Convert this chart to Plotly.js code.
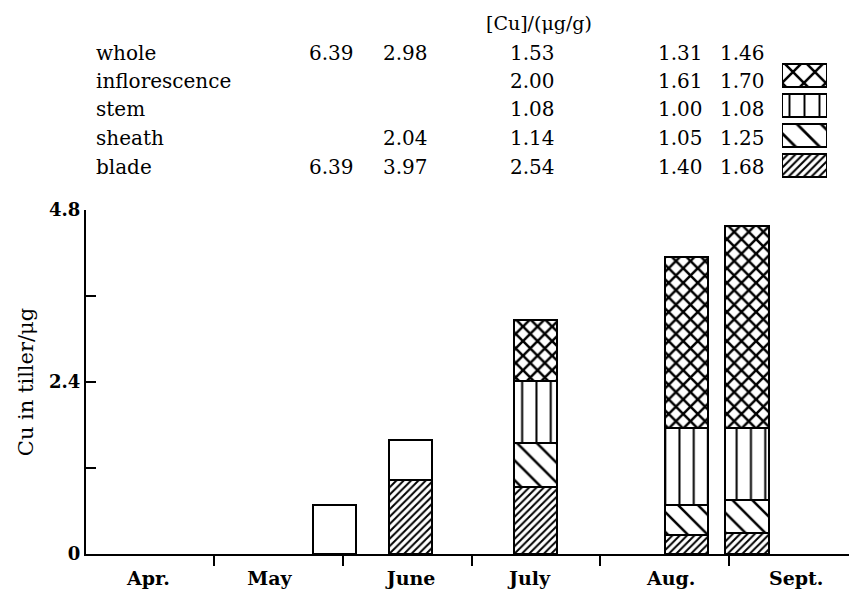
<!DOCTYPE html>
<html>
<head>
<meta charset="utf-8">
<script src="https://cdn.plot.ly/plotly-3.0.1.min.js"></script>
<style>html,body{margin:0;padding:0;background:#fff;}#chart{width:849px;height:591px;}</style>
</head>
<body>
<div id="chart"></div>
<script>
// ---- data ----
const monthLabels = ['Apr.', 'May', 'June', 'July', 'Aug.', 'Sept.'];
const monthLabelPos = [0.49, 1.43, 2.53, 3.45, 4.55, 5.52]; // months since 1 April
const monthStarts = [1, 2, 3, 4, 5];
const sampleTimes = [1.932, 2.529, 3.498, 4.671, 5.138]; // months since 1 April
const bladeCu = [null, 1.03, 0.93, 0.27, 0.30];
const sheathCu = [null, null, 0.62, 0.42, 0.45];
const stemCu = [null, null, 0.86, 1.07, 1.01];
const inflorescenceCu = [null, null, 0.85, 2.39, 2.82];
const unmarkedCu = [0.68, 0.56, null, null, null];

const yTickVals = [0, 1.2, 2.4, 3.6, 4.8];
const yTickText = ['0', '', '2.4', '', '4.8'];

const partNames = ['whole', 'inflorescence', 'stem', 'sheath', 'blade'];
const concMay = ['6.39', '', '', '', '6.39'];
const concJune = ['2.98', '', '', '2.04', '3.97'];
const concJuly = ['1.53', '2.00', '1.08', '1.14', '2.54'];
const concAug = ['1.31', '1.61', '1.00', '1.05', '1.40'];
const concSept = ['1.46', '1.70', '1.08', '1.25', '1.68'];
const legendParts = ['inflorescence', 'stem', 'sheath', 'blade'];
const legendValues = [1, 1, 1, 1];

// ---- layout helpers ----
const W = 849, H = 591, ML = 86, MR = 0, MT = 0, MB = 37;
const PW = W - ML - MR, PH = H - MT - MB;
const px2x = p => (p - ML) / PW;
const py2y = p => (PH + MT - p) / PH;

const serif = '"DejaVu Serif", serif';
const black = '#000';

function barTrace(name, vals, shape, size, solidity) {
  const m = {color: '#fff', line: {color: black, width: 2}};
  if (shape) m.pattern = {shape: shape, size: size, solidity: solidity, fgcolor: black, bgcolor: '#fff', fgopacity: 1};
  return {type: 'bar', name: name, x: sampleTimes, y: vals, width: 0.334, marker: m,
          xaxis: 'x', yaxis: 'y', hoverinfo: 'skip', showlegend: false};
}

const traces = [
  barTrace('blade', bladeCu, '/', 5.2, 0.38),
  barTrace('sheath', sheathCu, '\\', 14, 0.18),
  barTrace('stem', stemCu, '|', 14.3, 0.14),
  barTrace('inflorescence', inflorescenceCu, 'x', 10.3, 0.43),
  barTrace('whole', unmarkedCu, '', 0, 0),
  {
    type: 'bar', orientation: 'h', x: legendValues, y: [3, 2, 1, 0], width: 0.77,
    text: legendParts, textposition: 'none',
    xaxis: 'x2', yaxis: 'y2', hoverinfo: 'skip', showlegend: false,
    marker: {color: '#fff', line: {color: black, width: 2},
      pattern: {shape: ['x', '|', '\\', '/'], size: [15.5, 15, 17, 5.4], solidity: [0.3, 0.13, 0.16, 0.38],
                fgcolor: black, bgcolor: '#fff', fgopacity: 1}}
  }
];

const annotations = [];
const colPx = [331.5, 405, 532, 680.5, 742];
const cols = [concMay, concJune, concJuly, concAug, concSept];
const rowPx = [53, 81, 109, 138, 167];
partNames.forEach((nm, i) => {
  annotations.push({xref: 'paper', yref: 'paper', x: px2x(94), y: py2y(rowPx[i]), xanchor: 'left', yanchor: 'middle',
    text: nm, showarrow: false, font: {family: serif, size: 20, color: black}});
  cols.forEach((col, j) => {
    if (col[i]) annotations.push({xref: 'paper', yref: 'paper', x: px2x(colPx[j]), y: py2y(rowPx[i]),
      xanchor: 'center', yanchor: 'middle', text: col[i], showarrow: false,
      font: {family: serif, size: 20, color: black}});
  });
});
annotations.push({xref: 'paper', yref: 'paper', x: px2x(539), y: py2y(23), xanchor: 'center', yanchor: 'middle',
  text: '[Cu]/(μg/g)', showarrow: false, font: {family: serif, size: 19, color: black}});

const layout = {
  width: W, height: H,
  margin: {l: ML, r: MR, t: MT, b: MB, pad: 0},
  paper_bgcolor: '#fff', plot_bgcolor: '#fff',
  barmode: 'stack', bargap: 0,
  showlegend: false,
  xaxis: {
    domain: [0, 1], range: [0.006, 5.93], anchor: 'y',
    showline: true, linecolor: black, linewidth: 2, showgrid: false, zeroline: false,
    tickmode: 'array', tickvals: monthLabelPos, ticktext: monthLabels,
    ticks: 'outside', ticklen: 6, tickcolor: 'rgba(0,0,0,0)',
    tickfont: {family: serif, size: 19, color: black, weight: 'bold'},
    minor: {tickmode: 'array', tickvals: monthStarts, ticks: 'outside', ticklen: 10, tickwidth: 2, tickcolor: black, showgrid: false}
  },
  yaxis: {
    domain: [0, 344 / PH], range: [0, 4.8], anchor: 'x',
    showline: true, linecolor: black, linewidth: 2, showgrid: false, zeroline: false,
    tickmode: 'array', tickvals: yTickVals, ticktext: yTickText,
    ticks: 'inside', ticklen: 10, tickwidth: 2, tickcolor: black,
    tickfont: {family: serif, size: 18, color: black, weight: 'bold'},
    title: {text: 'Cu in tiller/μg', font: {family: serif, size: 21, color: black}, standoff: 10}
  },
  xaxis2: {domain: [px2x(782), px2x(827)], range: [0, 1], anchor: 'y2', visible: false, fixedrange: true},
  yaxis2: {domain: [py2y(180), py2y(61)], range: [-0.5, 3.5], anchor: 'x2', visible: false, fixedrange: true},
  annotations: annotations
};

Plotly.newPlot('chart', traces, layout, {displayModeBar: false, staticPlot: true});
</script>
</body>
</html>
